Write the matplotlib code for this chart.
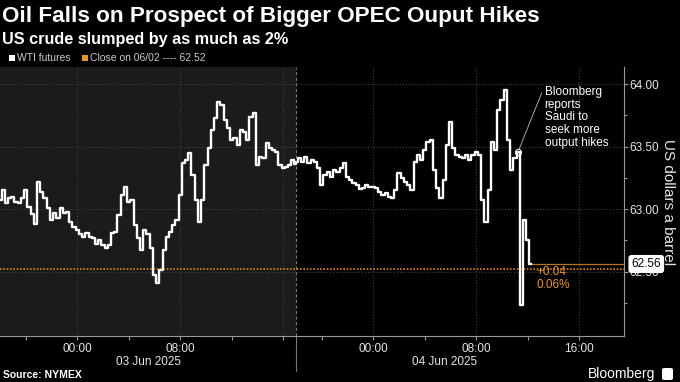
import matplotlib
matplotlib.use('Agg')
import matplotlib.pyplot as plt
import matplotlib.transforms as mtransforms
from matplotlib.patches import Rectangle, FancyBboxPatch
import numpy as np

plt.rcParams['font.family'] = ['Liberation Sans Narrow', 'Liberation Sans', 'DejaVu Sans']

# WTI futures, 15 min bars
# session 1: 02 Jun 18:00 -> 03 Jun 17:00 (hours relative to 03 Jun 00:00)
s1_start = -6.0
s1_prices = [
    63.07, 63.15, 63.05, 63.09, 63.10, 63.06, 63.05, 63.09, 63.15, 63.02,
    62.96, 62.88, 63.22, 63.14, 63.09, 63.01, 62.91, 62.97, 62.93, 63.01,
    62.97, 62.98, 62.90, 62.86, 62.83, 62.80, 62.78, 62.81, 62.78, 62.77,
    62.72, 62.75, 62.71, 62.69, 62.71, 62.81, 62.82, 62.95, 63.11, 63.18,
    63.06, 63.07, 62.87, 62.77, 62.67, 62.83, 62.80, 62.69, 62.47, 62.41,
    62.51, 62.67, 62.78, 62.82, 62.87, 62.91, 63.11, 63.37, 63.39, 63.45,
    63.27, 63.07, 62.90, 63.07, 63.35, 63.49, 63.63, 63.73, 63.86, 63.83,
    63.71, 63.65, 63.55, 63.57, 63.51, 63.63, 63.62, 63.55, 63.74, 63.77,
    63.35, 63.42, 63.41, 63.53, 63.49, 63.47, 63.46, 63.35, 63.33, 63.34,
    63.35, 63.39, 63.36,
]
# session 2: 03 Jun 18:00 -> 04 Jun 12:15
s2_start = 18.0
s2_prices = [
    63.38, 63.41, 63.38, 63.42, 63.37, 63.39, 63.38, 63.33, 63.19, 63.27,
    63.30, 63.26, 63.31, 63.30, 63.33, 63.37, 63.26, 63.23, 63.21, 63.19,
    63.16, 63.17, 63.19, 63.18, 63.18, 63.17, 63.14, 63.11, 63.13, 63.10,
    63.09, 63.15, 63.29, 63.25, 63.22, 63.19, 63.15, 63.38, 63.43, 63.39,
    63.47, 63.54, 63.55, 63.31, 63.17, 63.09, 63.23, 63.51, 63.70, 63.49,
    63.43, 63.42, 63.41, 63.43, 63.39, 63.43, 63.46, 63.43, 63.07, 62.90,
    63.15, 63.54, 63.47, 63.79, 63.87, 63.95, 63.55, 63.31, 63.41, 63.46,
    62.23, 62.91, 62.75, 62.56,
]
step = 0.25
prev_close = 62.52
last_price = 62.56
news_time = 35.25      # 04 Jun 11:15
news_price = 63.46

major_hours = [0, 8, 16, 24, 32, 40]
major_labels = ['00:00', '08:00', '', '00:00', '08:00', '16:00']
minor_hours = [-4, 4, 12, 20, 28, 36]
y_ticks = [62.5, 63.0, 63.5, 64.0]
break_start = 17.0     # session break 17:00-18:00 is not drawn


def pos(h):
    h = np.asarray(h, dtype=float)
    return np.where(h >= break_start + 1, h - 1, h)


t1 = s1_start + step * np.arange(len(s1_prices))
t2 = s2_start + step * np.arange(len(s2_prices))
times = np.concatenate([t1, t2])
prices = np.array(s1_prices + s2_prices)
x = pos(times)

fig = plt.figure(figsize=(6.8, 3.82), dpi=100, facecolor='black')
ax = fig.add_axes([0, 0.1204, 0.9176, 0.7042])
ax.set_facecolor('black')
ax.set_xlim(-6, 42.47)
ax.set_ylim(61.984, 64.136)

# previous session shading
ax.axvspan(-6, break_start, color='#1b1b1b', zorder=0, lw=0)

# grid
for yv in y_ticks:
    ax.axhline(yv, color='#4a4a4a', ls=(0, (1, 2)), lw=0.7, zorder=1)
for hv in major_hours:
    ax.axvline(float(pos(hv)), color='#4a4a4a', ls=(0, (1, 2)), lw=0.7, zorder=1)

# session separator
ax.axvline(break_start, ymin=0, ymax=1, color='#777777', ls=(0, (3, 2)), lw=0.8, zorder=2)
ax.axvline(break_start, ymin=-0.13, ymax=0, color='#777777', lw=0.8, clip_on=False, zorder=2)

# close line and last price line
ax.axhline(prev_close, color='#d9861c', ls=(0, (1, 1)), lw=1.2, zorder=3)
ax.hlines(last_price, x[-1], 42.47, color='#b87514', lw=0.9, zorder=3)

ax.plot(x, prices, color='white', lw=1.7, zorder=4, drawstyle='steps-mid')

# spines
for s in ['left', 'top']:
    ax.spines[s].set_visible(False)
for s in ['right', 'bottom']:
    ax.spines[s].set_color('#9a9a9a')
    ax.spines[s].set_linewidth(0.8)

ax.yaxis.tick_right()
ax.set_yticks(y_ticks)
ax.set_yticklabels([f'{v:.2f}' for v in y_ticks])
ax.set_yticks([62.25, 62.75, 63.25, 63.75], minor=True)
ax.tick_params(axis='y', which='both', colors='#9a9a9a', labelcolor='#e6e6e6',
               labelsize=8.5, length=3, width=0.8, pad=1)
ax.tick_params(axis='y', which='minor', length=2)

ax.set_xticks(pos(major_hours))
ax.set_xticklabels(major_labels)
ax.set_xticks(pos(minor_hours), minor=True)
ax.tick_params(axis='x', which='both', colors='#9a9a9a', labelcolor='#e6e6e6',
               labelsize=8.5, length=3, width=0.8, pad=2)

trans = mtransforms.blended_transform_factory(ax.transData, ax.transAxes)
ax.text((-6 + 17) / 2, -0.095, '03 Jun 2025', transform=trans, ha='center', va='center',
        color='#e6e6e6', fontsize=8.5)
ax.text((17 + 40) / 2, -0.095, '04 Jun 2025', transform=trans, ha='center', va='center',
        color='#e6e6e6', fontsize=8.5)

# last price tag
trans_y = mtransforms.blended_transform_factory(ax.transAxes, ax.transData)
ax.text(1.012, last_price, f'{last_price:.2f}', transform=trans_y, ha='left', va='center',
        fontsize=8.5, color='black', zorder=10, clip_on=False,
        bbox=dict(boxstyle='round,pad=0.2,rounding_size=0.2', fc='white', ec='white'))

# change vs previous close
chg = last_price - prev_close
ax.text(x[-1] + 0.45, 62.545, f'+{chg:.2f}\n{chg / prev_close * 100:.2f}%', ha='left', va='top',
        color='#e8952a', fontsize=8.5, linespacing=1.15, zorder=5)

# news annotation
ax.plot(float(pos(news_time)), news_price, 'o', ms=4.5, mfc='none', mec='white', mew=0.7, zorder=6)
ax.annotate('Bloomberg\nreports\nSaudi to\nseek more\noutput hikes',
            xy=(float(pos(news_time)), news_price), xytext=(36.3, 63.985),
            ha='left', va='top', color='white', fontsize=8.5, linespacing=1.08,
            arrowprops=dict(arrowstyle='-', color='#bbbbbb', lw=0.6,
                            shrinkA=0, shrinkB=2, relpos=(0, 1)), zorder=6)

# y label
fig.text(0.982, 0.47, 'US dollars a barrel', rotation=270, ha='center', va='center',
         color='#e6e6e6', fontsize=11)

# titles
fig.text(0.003, 0.985, 'Oil Falls on Prospect of Bigger OPEC Ouput Hikes', ha='left', va='top',
         color='white', fontsize=16.2, fontweight='bold')
fig.text(0.003, 0.915, 'US crude slumped by as much as 2%', ha='left', va='top',
         color='white', fontsize=11.7, fontweight='bold')

# legend
fig.patches.append(Rectangle((9 / 680, 1 - 61 / 382), 6 / 680, 6 / 382,
                             transform=fig.transFigure, fc='white', ec='none'))
fig.text(17 / 680, 1 - 58 / 382, 'WTI futures', ha='left', va='center', color='#cccccc', fontsize=7.5)
fig.patches.append(Rectangle((82 / 680, 1 - 61 / 382), 6 / 680, 6 / 382,
                             transform=fig.transFigure, fc='#e8952a', ec='none'))
fig.text(90 / 680, 1 - 58 / 382, f'Close on 06/02 ---- {prev_close:.2f}', ha='left', va='center',
         color='#cccccc', fontsize=7.5)

# footer
fig.text(0.005, 1 - 375 / 382, 'Source: NYMEX', ha='left', va='center', color='white',
         fontsize=7.5, fontweight='bold')
fig.text(655 / 680, 1 - 374 / 382, 'Bloomberg', ha='right', va='center', color='white',
         fontsize=10)
fig.patches.append(FancyBboxPatch((662 / 680, 1 - 380 / 382), 11 / 680, 12 / 382,
                                  boxstyle='round,pad=0,rounding_size=0.004',
                                  transform=fig.transFigure, fc='white', ec='none'))

fig.savefig('out.png', dpi=100, facecolor='black')
